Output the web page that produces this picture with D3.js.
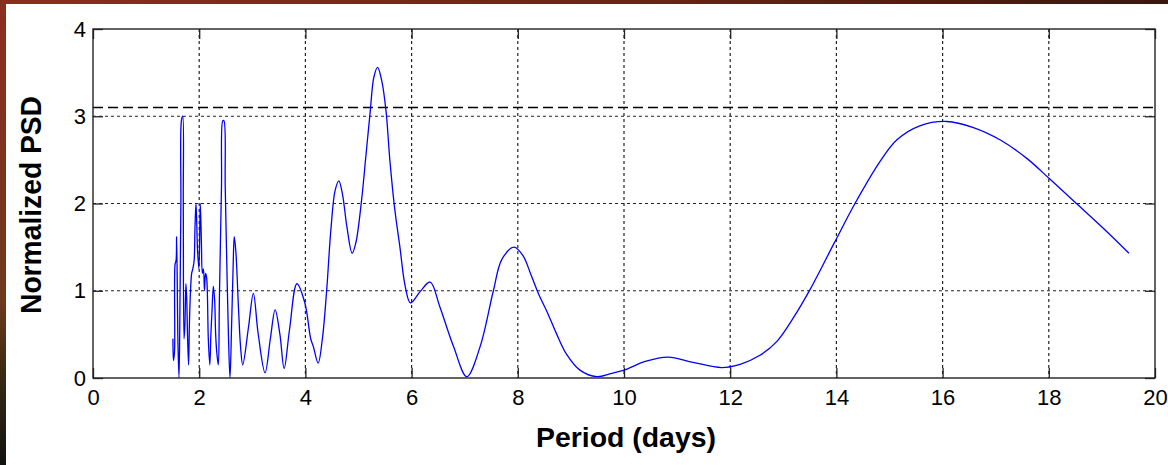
<!DOCTYPE html>
<html>
<head>
<meta charset="utf-8">
<script src="https://cdn.jsdelivr.net/npm/d3@7"></script>
<style>
  body { margin: 0; background: #fff; }
  svg { display: block; }
  .tick text { font-family: "Liberation Sans", Arial, sans-serif; font-size: 22px; fill: #000; }
  .label { font-family: "Liberation Sans", Arial, sans-serif; font-weight: bold; fill: #000; }
</style>
</head>
<body>
<div id="chart"></div>
<script>
// period (days) and normalized PSD
const period = [
  1.505, 1.515, 1.535, 1.545, 1.565, 1.575, 1.60, 1.62, 1.64, 1.655, 1.665, 1.69, 1.70, 1.714,
  1.73, 1.75, 1.765, 1.78, 1.80, 1.815, 1.83, 1.858, 1.88, 1.905, 1.921, 1.94, 1.97, 1.995,
  2.02, 2.04, 2.06, 2.08, 2.10, 2.12, 2.14, 2.172, 2.20, 2.22, 2.24, 2.266, 2.29, 2.31, 2.33,
  2.36, 2.38, 2.42, 2.445, 2.465, 2.49, 2.52, 2.55, 2.58, 2.61, 2.64, 2.66, 2.69, 2.74, 2.78,
  2.82, 2.93, 3.02, 3.11, 3.24, 3.34, 3.43, 3.52, 3.60, 3.70, 3.84, 3.99, 4.10, 4.15, 4.24,
  4.32, 4.40, 4.48, 4.56, 4.63, 4.70, 4.78, 4.88, 4.95, 5.06, 5.14, 5.22, 5.29, 5.36, 5.44,
  5.52, 5.59, 5.68, 5.78, 5.88, 5.98, 6.16, 6.35, 6.53, 6.79, 7.04, 7.29, 7.54, 7.70, 7.93,
  8.10, 8.25, 8.40, 8.55, 8.72, 8.92, 9.17, 9.49, 9.75, 10.0, 10.4, 10.83, 11.3, 11.84, 12.2,
  12.56, 12.88, 13.2, 13.5, 13.97, 14.35, 14.82, 15.14, 15.57, 16.08, 16.58, 17.08, 17.58,
  18.02, 18.52, 19.09, 19.51
];
const psd = [
  0.45, 0.20, 0.30, 1.30, 1.35, 1.62, 0.40, 0.00, 1.00, 2.00, 2.95, 3.00, 2.00, 0.45,
  0.60, 1.08, 0.90, 0.50, 0.15, 0.60, 0.90, 1.20, 1.25, 1.35, 1.73, 2.00, 1.45, 1.25,
  2.00, 1.60, 1.20, 1.25, 1.00, 1.20, 1.15, 0.44, 0.15, 0.50, 0.75, 1.05, 0.90, 0.50, 0.30,
  0.15, 0.90, 2.20, 2.95, 2.95, 2.20, 1.30, 0.50, 0.00, 0.60, 1.30, 1.62, 1.45, 0.80, 0.35,
  0.15, 0.59, 0.97, 0.51, 0.06, 0.45, 0.78, 0.50, 0.11, 0.55, 1.08, 0.86, 0.45, 0.36, 0.17,
  0.45, 1.00, 1.70, 2.15, 2.26, 2.10, 1.74, 1.43, 1.55, 2.05, 2.55, 3.05, 3.45, 3.56, 3.40,
  3.05, 2.50, 1.95, 1.50, 1.05, 0.86, 0.99, 1.10, 0.82, 0.36, 0.015, 0.36, 1.00, 1.36, 1.50,
  1.40, 1.18, 0.95, 0.76, 0.52, 0.27, 0.09, 0.015, 0.05, 0.09, 0.19, 0.24, 0.18, 0.12, 0.16,
  0.26, 0.42, 0.70, 1.01, 1.56, 2.00, 2.48, 2.73, 2.89, 2.94, 2.87, 2.73, 2.52,
  2.28, 2.00, 1.68, 1.43
];
const xTicks = [0, 2, 4, 6, 8, 10, 12, 14, 16, 18, 20];
const yTicks = [0, 1, 2, 3, 4];
const threshold = [3.1];

const W = 1168, H = 465;
const margin = { top: 29, right: 13, bottom: 87, left: 93 };
const iw = W - margin.left - margin.right,
      ih = H - margin.top - margin.bottom;

const svg = d3.select("#chart").append("svg")
  .attr("width", W)
  .attr("height", H);

// slide background peeking in at the top and left edges
const defs = svg.append("defs");
const gTop = defs.append("linearGradient").attr("id", "bgTop");
gTop.append("stop").attr("offset", "0%").attr("stop-color", "#8c2e1e");
gTop.append("stop").attr("offset", "55%").attr("stop-color", "#6a2414");
gTop.append("stop").attr("offset", "100%").attr("stop-color", "#3a170c");
const gLeft = defs.append("linearGradient").attr("id", "bgLeft")
  .attr("x1", 0).attr("y1", 0).attr("x2", 0).attr("y2", 1);
gLeft.append("stop").attr("offset", "0%").attr("stop-color", "#8c2e1e");
gLeft.append("stop").attr("offset", "65%").attr("stop-color", "#6e3a1c");
gLeft.append("stop").attr("offset", "80%").attr("stop-color", "#3a2a14");
gLeft.append("stop").attr("offset", "100%").attr("stop-color", "#121210");

defs.append("clipPath").attr("id", "plotClip")
  .append("rect").attr("width", iw).attr("height", ih);

svg.append("rect").attr("width", W).attr("height", H).attr("fill", "#fff");
svg.append("rect").attr("width", W).attr("height", 4).attr("fill", "url(#bgTop)");
svg.append("rect").attr("width", 6).attr("height", H).attr("fill", "url(#bgLeft)");

const g = svg.append("g")
  .attr("transform", "translate(" + margin.left + "," + margin.top + ")");

const x = d3.scaleLinear().domain([0, 20]).range([0, iw]);
const y = d3.scaleLinear().domain([0, 4]).range([ih, 0]);

// dotted grid
g.append("g").selectAll("line")
  .data(xTicks.slice(1, -1))
  .join("line")
  .attr("x1", d => x(d)).attr("x2", d => x(d))
  .attr("y1", 0).attr("y2", ih)
  .attr("stroke", "#222").attr("stroke-width", 1.2)
  .attr("stroke-dasharray", "3,3");

g.append("g").selectAll("line")
  .data(yTicks.slice(1, -1))
  .join("line")
  .attr("x1", 0).attr("x2", iw)
  .attr("y1", d => y(d)).attr("y2", d => y(d))
  .attr("stroke", "#222").attr("stroke-width", 1.2)
  .attr("stroke-dasharray", "3,3");

// significance level
g.append("g").selectAll("line")
  .data(threshold)
  .join("line")
  .attr("x1", 0).attr("x2", iw)
  .attr("y1", d => y(d)).attr("y2", d => y(d))
  .attr("stroke", "#000").attr("stroke-width", 1.4)
  .attr("stroke-dasharray", "10,5");

const line = d3.line()
  .x((d, i) => x(period[i]))
  .y(d => y(d))
  .curve(d3.curveCatmullRom.alpha(0.5));

g.append("path")
  .datum(psd)
  .attr("clip-path", "url(#plotClip)")
  .attr("fill", "none")
  .attr("stroke", "#0000ff")
  .attr("stroke-width", 1.3)
  .attr("d", line);

// axes with inward ticks, matlab style
const xAxis = g.append("g")
  .attr("transform", "translate(0," + ih + ")")
  .call(d3.axisBottom(x).tickValues(xTicks).tickSizeInner(-10).tickSizeOuter(0));
xAxis.selectAll("text").attr("y", 27).attr("dy", null);

g.append("g")
  .call(d3.axisTop(x).tickValues(xTicks).tickSizeInner(-10).tickSizeOuter(0).tickFormat(""));

const yAxis = g.append("g")
  .call(d3.axisLeft(y).tickValues(yTicks).tickFormat(d3.format("d"))
    .tickSizeInner(-10).tickSizeOuter(0));
yAxis.selectAll("text").attr("x", -7);

g.append("g")
  .attr("transform", "translate(" + iw + ",0)")
  .call(d3.axisRight(y).tickValues(yTicks).tickSizeInner(-10).tickSizeOuter(0).tickFormat(""));

g.selectAll(".domain").remove();
g.selectAll(".tick line").attr("stroke", "#222").attr("stroke-width", 1.3);

g.append("rect")
  .attr("width", iw).attr("height", ih)
  .attr("fill", "none")
  .attr("stroke", "#222").attr("stroke-width", 1.4);

svg.append("text")
  .attr("class", "label")
  .attr("x", 626).attr("y", 447)
  .attr("text-anchor", "middle")
  .attr("font-size", 28)
  .attr("textLength", 180)
  .attr("lengthAdjust", "spacingAndGlyphs")
  .text("Period (days)");

svg.append("text")
  .attr("class", "label")
  .attr("transform", "translate(41,205) rotate(-90)")
  .attr("text-anchor", "middle")
  .attr("font-size", 29)
  .attr("textLength", 218)
  .attr("lengthAdjust", "spacingAndGlyphs")
  .text("Normalized PSD");
</script>
</body>
</html>
